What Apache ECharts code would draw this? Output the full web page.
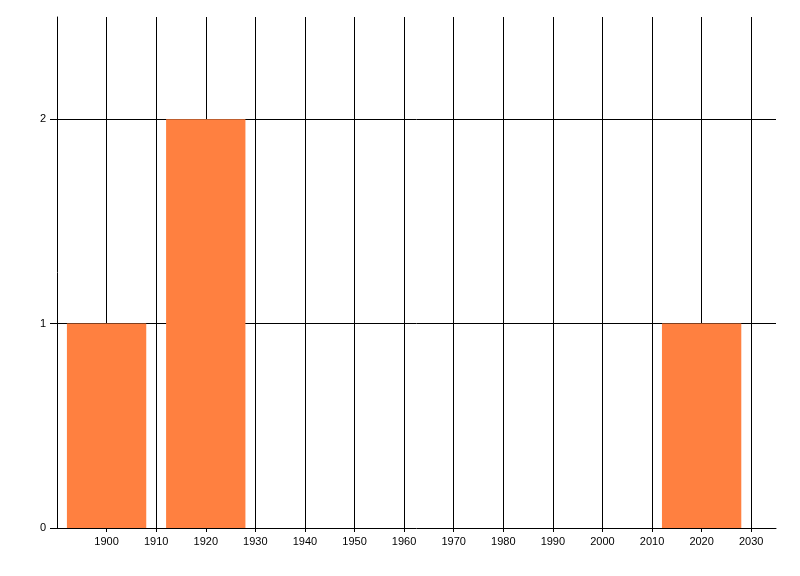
<!DOCTYPE html>
<html>
<head>
<meta charset="utf-8">
<script src="https://cdn.jsdelivr.net/npm/echarts@6/dist/echarts.min.js"></script>
<style>html,body{margin:0;padding:0;background:#fff}#c{width:800px;height:576px}</style>
</head>
<body>
<div id="c"></div>
<script>
// Data
const binCenters = [1900, 1920, 2020];
const binCounts = [1, 2, 1];
const binWidth = 16;
const xMin = 1890, xMax = 2035, xStep = 10;
const yMin = 0, yMax = 2.5, yStep = 1;

const data = binCenters.map((c, i) => [c - binWidth / 2, c + binWidth / 2, binCounts[i]]);

const chart = echarts.init(document.getElementById('c'), null, {renderer: 'canvas'});
chart.setOption({
  animation: false,
  backgroundColor: '#ffffff',
  grid: {left: 57, right: 24, top: 17, bottom: 48, containLabel: false},
  xAxis: {
    type: 'value', min: xMin, max: xMax, interval: xStep,
    axisLine: {show: true, lineStyle: {color: '#000', width: 1}},
    axisTick: {show: true, length: 4, lineStyle: {color: '#000'}},
    axisLabel: {show: true, color: '#000', fontFamily: 'Liberation Sans, Arial, sans-serif', fontSize: 11, margin: 8,
      showMinLabel: false, showMaxLabel: false, formatter: v => String(v)},
    splitLine: {show: true, showMinLine: false, showMaxLine: false, lineStyle: {color: '#000', width: 1}}
  },
  yAxis: {
    type: 'value', min: yMin, max: yMax, interval: yStep,
    axisLine: {show: true, lineStyle: {color: '#000', width: 1}},
    axisTick: {show: true, length: 7, lineStyle: {color: '#000'}},
    axisLabel: {show: true, color: '#000', fontFamily: 'Liberation Sans, Arial, sans-serif', fontSize: 11, margin: 11,
      showMaxLabel: false, formatter: v => String(v)},
    splitLine: {show: true, showMinLine: false, showMaxLine: false, lineStyle: {color: '#000', width: 1}}
  },
  series: [{
    type: 'custom',
    data: data,
    encode: {x: [0, 1], y: 2},
    z: 10,
    renderItem: function (params, api) {
      const p0 = api.coord([api.value(0), api.value(2)]);
      const p1 = api.coord([api.value(1), 0]);
      return {
        type: 'rect',
        shape: {x: p0[0], y: p0[1], width: p1[0] - p0[0], height: p1[1] - p0[1]},
        style: {fill: '#FF8040'}
      };
    }
  }]
});
</script>
</body>
</html>
